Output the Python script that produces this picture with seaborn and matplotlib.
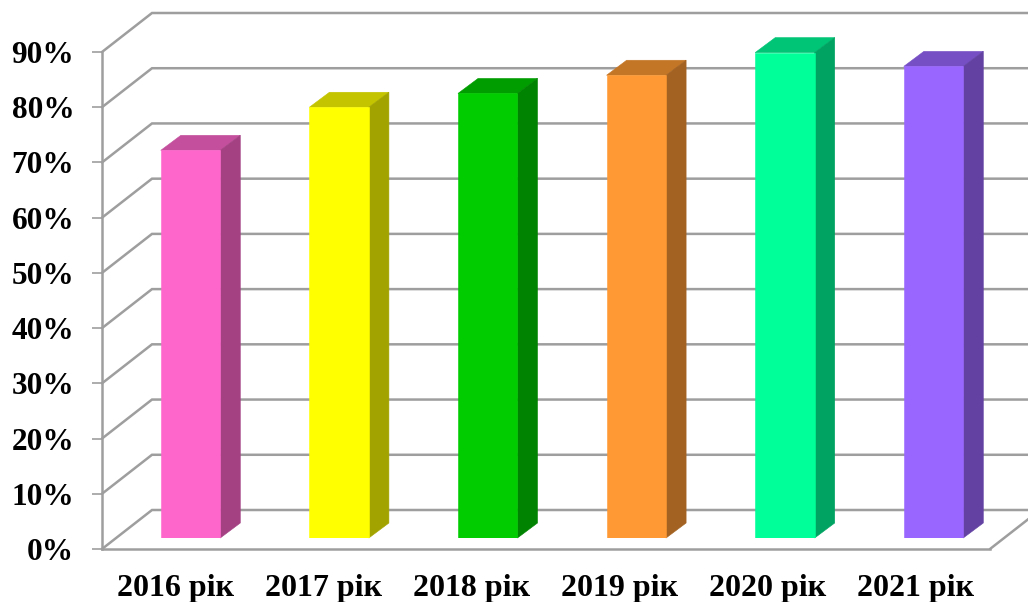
import matplotlib
matplotlib.use('Agg')
import matplotlib.pyplot as plt
import matplotlib.colors as mcolors
from matplotlib.patches import Polygon
import pandas as pd
import seaborn as sns

years = ['2016 рік', '2017 рік', '2018 рік', '2019 рік', '2020 рік', '2021 рік']
values = [70.2, 78.0, 80.5, 83.8, 87.9, 85.4]
bar_colors = ['#FF66CC', '#FFFF00', '#00CC00', '#FF9933', '#00FF99', '#9966FF']
y_ticks = [0, 10, 20, 30, 40, 50, 60, 70, 80, 90]

W, H = 1028, 602
GRID = '#9e9e9e'

sns.set_theme(style='white')
plt.rcParams['font.family'] = ['Liberation Serif', 'DejaVu Serif']
plt.rcParams['font.weight'] = 'bold'

fig = plt.figure(figsize=(W / 100, H / 100), dpi=100, facecolor='white')


def axes_px(x0, x1, y_top, y_bottom):
    return fig.add_axes([x0 / W, 1 - y_bottom / H, (x1 - x0) / W, (y_bottom - y_top) / H])


# front plane of the 3d box
ax = axes_px(102, 990, 52, 549)
ax.set_xlim(-0.5, 5.5)
ax.set_ylim(0, 90)
px_x = 6 / 888
px_y = 90 / 497
wall_x = 50 * px_x
wall_y = 39 * px_y

for v in y_ticks:
    ax.plot([-0.5, -0.5 + wall_x, 5.8], [v, v + wall_y, v + wall_y], color=GRID, lw=1.8,
            clip_on=False, solid_joinstyle='miter', zorder=1)
ax.plot([5.5, 5.5 + wall_x], [0, wall_y], color=GRID, lw=1.8, clip_on=False, zorder=1)

ax.set_xticks(range(6))
ax.set_xticklabels(years, fontsize=23, fontweight='bold', color='black')
ax.set_xticks([i - 0.5 for i in range(7)], minor=True)
ax.set_yticks(y_ticks)
ax.set_yticklabels([f'{v}%' for v in y_ticks], fontsize=22.5, fontweight='bold', color='black')
ax.tick_params(axis='x', which='major', length=0, pad=18)
ax.tick_params(axis='x', which='minor', length=7, width=1.2, color=GRID)
ax.tick_params(axis='y', length=7, width=1.2, color=GRID, pad=13, left=True)
for side in ['top', 'right']:
    ax.spines[side].set_visible(False)
for side in ['left', 'bottom']:
    ax.spines[side].set_color(GRID)
    ax.spines[side].set_linewidth(1.8)

# bars stand a little behind the front plane
ax_bars = axes_px(116.2, 1007.8, 52 - 11, 549 - 11)
ax_bars.patch.set_alpha(0)
df = pd.DataFrame({'year': years, 'value': values})
sns.barplot(data=df, x='year', y='value', hue='year', palette=bar_colors, width=0.4,
            legend=False, saturation=1, ax=ax_bars, zorder=3)
ax_bars.set_xlim(-0.5, 5.5)
ax_bars.set_ylim(0, 90)
ax_bars.axis('off')

depth_x = 20 * px_x
depth_y = 15 * px_y
for bar, color in zip(list(ax_bars.patches), bar_colors):
    x0, x1 = bar.get_x(), bar.get_x() + bar.get_width()
    top = bar.get_height()
    rgb = mcolors.to_rgb(color)
    top_color = tuple(c * 0.77 for c in rgb)
    side_color = tuple(c * 0.64 for c in rgb)
    bar.set_edgecolor(color)
    bar.set_linewidth(0.4)
    ax_bars.add_patch(Polygon([(x1, 0), (x1 + depth_x, depth_y), (x1 + depth_x, top + depth_y), (x1, top)],
                              facecolor=side_color, edgecolor=side_color, lw=0.4, clip_on=False, zorder=2.9))
    ax_bars.add_patch(Polygon([(x0, top), (x0 + depth_x, top + depth_y), (x1 + depth_x, top + depth_y), (x1, top)],
                              facecolor=top_color, edgecolor=top_color, lw=0.4, clip_on=False, zorder=2.8))

fig.savefig('out.png', dpi=100, facecolor='white')
plt.close(fig)
